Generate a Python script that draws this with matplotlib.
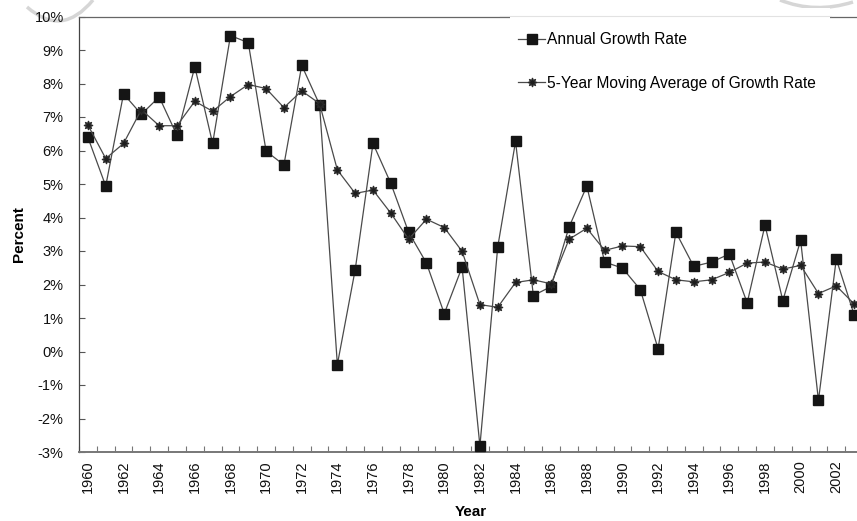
import matplotlib
matplotlib.use("Agg")
import matplotlib.pyplot as plt
from matplotlib.patches import Rectangle, PathPatch
from matplotlib.path import Path
from matplotlib.lines import Line2D
from matplotlib.ticker import FixedLocator, FuncFormatter

years = list(range(1960, 2004))
annual_growth = [6.39, 4.94, 7.69, 7.08, 7.60, 6.45, 8.50, 6.21, 9.43, 9.22,
                 5.98, 5.57, 8.54, 7.37, -0.39, 2.44, 6.21, 5.02, 3.56, 2.64,
                 1.13, 2.52, -2.82, 3.12, 6.27, 1.67, 1.94, 3.71, 4.94, 2.67,
                 2.49, 1.85, 0.08, 3.56, 2.54, 2.67, 2.91, 1.45, 3.77, 1.52,
                 3.32, -1.46, 2.76, 1.10]
moving_avg = [6.76, 5.76, 6.21, 7.22, 6.74, 6.74, 7.47, 7.17, 7.61, 7.97,
              7.85, 7.28, 7.78, 7.40, 5.42, 4.72, 4.82, 4.13, 3.35, 3.95,
              3.70, 2.99, 1.40, 1.32, 2.06, 2.14, 2.02, 3.35, 3.68, 3.02,
              3.15, 3.13, 2.39, 2.14, 2.08, 2.14, 2.36, 2.64, 2.67, 2.46,
              2.57, 1.73, 1.96, 1.42]
y_ticks = list(range(-3, 11))
label_years = years[::2]

plt.rcParams['font.family'] = ['Liberation Sans', 'DejaVu Sans']

W, H = 857, 521
fig = plt.figure(figsize=(W / 100, H / 100), dpi=100)
left, right, top, bottom = 79, 863, 16.5, 452
ax = fig.add_axes([left / W, 1 - bottom / H, (right - left) / W, (bottom - top) / H])


def fx(px):
    return px / W


def fy(py):
    return 1 - py / H


# faint scan artefacts (light gray arcs at the top)
for verts in ([(27, 7), (62, 38), (93, 0)], [(780, 0), (815, 14), (853, 2)]):
    p = Path([(fx(a), fy(b)) for a, b in verts], [Path.MOVETO, Path.CURVE3, Path.CURVE3])
    fig.patches.append(PathPatch(p, transform=fig.transFigure, facecolor='none',
                                 edgecolor='#d6d6d6', lw=2.5, zorder=-1))

x = list(range(len(years)))
line_col = '#4a4a4a'
ax.plot(x, annual_growth, color=line_col, lw=0.9, marker='s', markersize=7,
        markerfacecolor='#151515', markeredgecolor='#151515',
        label='Annual Growth Rate', zorder=3)
ax.plot(x, moving_avg, color=line_col, lw=0.9, marker=(8, 1, 0), markersize=6.5,
        markerfacecolor='#1e1e1e', markeredgecolor='#2a2a2a', markeredgewidth=0.8,
        label='5-Year Moving Average of Growth Rate', zorder=3)

ax.set_xlim(-0.5, len(years) - 0.5)
ax.set_ylim(-3, 10)
ax.yaxis.set_major_locator(FixedLocator(y_ticks))
ax.yaxis.set_major_formatter(FuncFormatter(lambda v, p: f"{int(round(v))}%"))
ax.set_xticks([years.index(yv) for yv in label_years])
ax.set_xticklabels([str(yv) for yv in label_years], rotation=90)
ax.xaxis.set_minor_locator(FixedLocator([i - 0.5 for i in range(len(years) + 1)]))
ax.tick_params(axis='x', which='major', length=0, pad=6, labelsize=10.5, colors='#111')
ax.tick_params(axis='x', which='minor', direction='in', length=4, width=0.8, color='#777')
ax.tick_params(axis='y', which='major', direction='in', length=4, width=0.8,
               color='#555', labelsize=10.5, labelcolor='#111', pad=11)

ax.spines['right'].set_visible(False)
ax.spines['left'].set_color('#444')
ax.spines['left'].set_linewidth(0.9)
ax.spines['top'].set_color('#666')
ax.spines['top'].set_linewidth(0.9)
ax.spines['bottom'].set_color('#777')
ax.spines['bottom'].set_linewidth(1.4)

ax.set_xlabel('Year', fontsize=11, fontweight='bold', labelpad=8.5)
ax.set_ylabel('Percent', fontsize=11, fontweight='bold', labelpad=6)

# white box behind legend hiding the top border, with faint line remaining
fig.patches.append(Rectangle((fx(510), fy(28)), 320 / W, 20 / H,
                             transform=fig.transFigure, facecolor='white',
                             edgecolor='none', zorder=2))
fig.lines.append(Line2D([fx(500), fx(831)], [fy(15.5), fy(15.5)],
                        transform=fig.transFigure, color='#e2e2e2', lw=0.8, zorder=2.5))
leg = fig.legend(loc='upper left', bbox_to_anchor=(fx(518), fy(32)),
                 bbox_transform=fig.transFigure, frameon=False, fontsize=11.2,
                 handlelength=1.75, handletextpad=0.1, labelspacing=1.85,
                 borderpad=0, borderaxespad=0)
leg.set_zorder(5)

fig.savefig('out.png', dpi=100, facecolor='white')
